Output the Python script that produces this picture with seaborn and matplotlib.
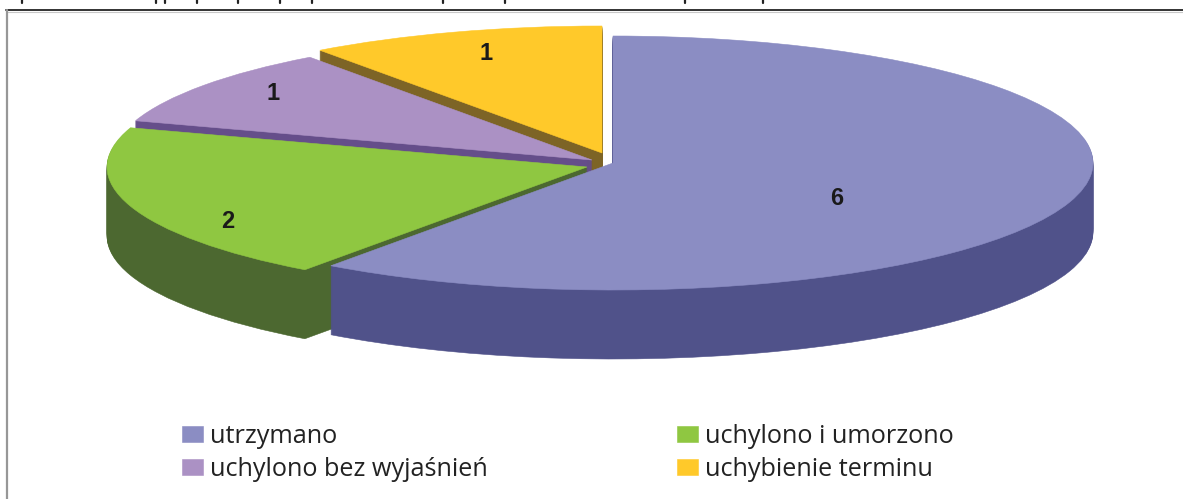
import matplotlib
matplotlib.use("Agg")
import matplotlib.pyplot as plt
import seaborn as sns

categories = ["utrzymano", "uchylono i umorzono", "uchylono bez wyjaśnień", "uchybienie terminu"]
values = [6, 2, 1, 1]

top_colors = ["#8B8DC3", "#8FC741", "#AB91C4", "#FFC92A"]
side_colors = ["#50528A", "#4C6830", "#654E8A", "#7D6426"]
# slice apex position on the canvas (pixels) and value label positions - layout only
apex_px = [(613, 163), (587, 167), (592, 160), (602, 153)]
label_px = [(837, 198.5), (228, 222), (273, 94), (486, 53)]
paint_order = [3, 2, 1, 0]
legend_order = [0, 2, 1, 3]
DEPTH = 69
W, H = 1183, 499
RX, RY = 480.0, 127.0

sns.set_theme(style="white")
plt.rcParams["font.family"] = ["Open Sans", "DejaVu Sans"]

fig = plt.figure(figsize=(W / 100, H / 100), dpi=100)
ax = fig.add_axes([0, 0, 1, 1])


def dx(px):
    return (px - 600) / RX


def dy(py):
    return (160 - py) / RY


handles = [None] * len(values)
for rank, i in enumerate(paint_order):
    for k in range(DEPTH, -1, -1):
        color = top_colors[i] if k == 0 else side_colors[i]
        wedges, _ = ax.pie(
            values,
            startangle=90,
            counterclock=False,
            center=(dx(apex_px[i][0]), dy(apex_px[i][1] + k)),
            colors=[color] * len(values),
            wedgeprops={"linewidth": 0.4, "edgecolor": color},
        )
        for j, w in enumerate(wedges):
            if j == i:
                w.set_zorder(10 + rank * 100 + (DEPTH - k))
            else:
                w.remove()
        if k == 0:
            handles[i] = wedges[i]

ax.set_aspect("auto")
ax.set_xlim(dx(0), dx(W))
ax.set_ylim(dy(H), dy(0))
ax.set_axis_off()

for v, (px, py) in zip(values, label_px):
    ax.text(dx(px), dy(py), str(v), ha="center", va="center", fontsize=17,
            fontweight="bold", family="Liberation Sans", color="#1a1a1a", zorder=1000)

# chart frame: only top and left edges are in the crop
ax.plot([dx(6), dx(W)], [dy(10), dy(10)], color="#333333", lw=1.4, zorder=900, clip_on=False)
ax.plot([dx(6), dx(W)], [dy(11.5), dy(11.5)], color="#c8c8c8", lw=0.8, zorder=899)
ax.plot([dx(6.5), dx(6.5)], [dy(10), dy(H)], color="#979797", lw=1.6, zorder=900)

# descender remnants of the cropped line above the chart
for px in [22, 156, 165, 197, 238, 280, 312, 443, 505, 685, 763]:
    ax.plot([dx(px), dx(px)], [dy(0), dy(2.5)], color="#222222", lw=1.6, zorder=900)

ax.legend(
    [handles[i] for i in legend_order],
    [categories[i] for i in legend_order],
    ncol=2,
    loc="upper left",
    bbox_to_anchor=(182 / W, 1 - 424 / H),
    bbox_transform=fig.transFigure,
    frameon=False,
    fontsize=18.2,
    borderaxespad=0,
    borderpad=0,
    handlelength=0.83,
    handleheight=0.6,
    handletextpad=0.28,
    columnspacing=7.5,
    labelspacing=0.3,
    labelcolor="#222222",
)

fig.savefig("out.png", dpi=100, facecolor="white")
